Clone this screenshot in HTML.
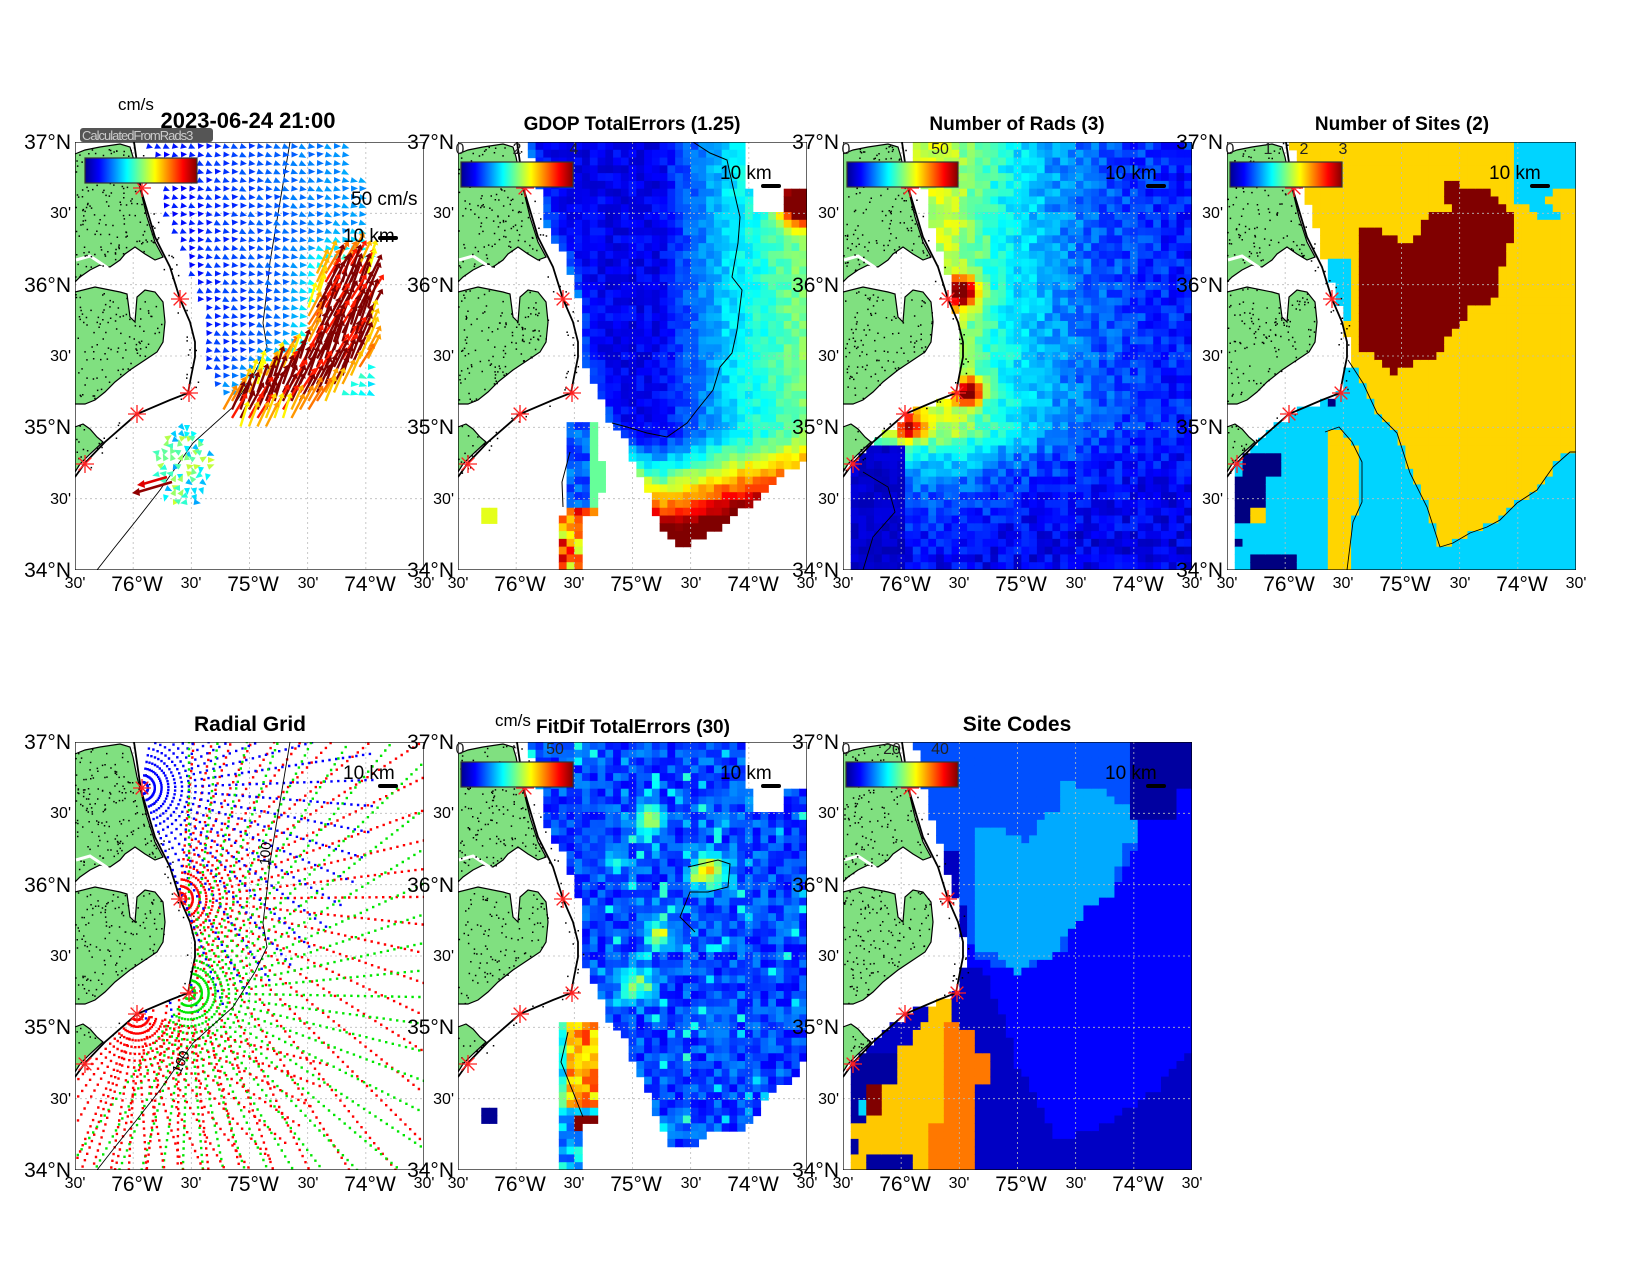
<!DOCTYPE html>
<html><head><meta charset="utf-8">
<style>
body{margin:0;background:#fff}
svg{display:block}
text{font-family:"Liberation Sans",Arial,sans-serif;fill:#000}
.b{font-size:21px}.s{font-size:16px}.t{font-size:19px;font-weight:bold}.k{font-size:16px;fill:#222}.km{font-size:19px}
.gl{stroke:#bbb;stroke-width:0.8;stroke-dasharray:2,3;fill:none}
</style></head><body>
<svg id="S" width="1650" height="1275" xmlns="http://www.w3.org/2000/svg">
<defs>
<linearGradient id="jet" x1="0" x2="1" y1="0" y2="0">
<stop offset="0" stop-color="#00008f"/><stop offset="0.125" stop-color="#0000ff"/><stop offset="0.375" stop-color="#00ffff"/><stop offset="0.625" stop-color="#ffff00"/><stop offset="0.875" stop-color="#ff0000"/><stop offset="1" stop-color="#800000"/>
</linearGradient>
<clipPath id="cp"><rect x="0" y="0" width="349" height="428"/></clipPath>
</defs>

<g id="p0" transform="translate(75,142)"><g id="d0" clip-path="url(#cp)"></g></g>
<g id="p1" transform="translate(458,142)"><g id="d1" clip-path="url(#cp)"></g></g>
<g id="p2" transform="translate(843,142)"><g id="d2" clip-path="url(#cp)"></g></g>
<g id="p3" transform="translate(1227,142)"><g id="d3" clip-path="url(#cp)"></g></g>
<g id="p4" transform="translate(75,742)"><g id="d4" clip-path="url(#cp)"></g></g>
<g id="p5" transform="translate(458,742)"><g id="d5" clip-path="url(#cp)"></g></g>
<g id="p6" transform="translate(843,742)"><g id="d6" clip-path="url(#cp)"></g></g>

<text x="248" y="128" text-anchor="middle" style="font-size:22px;font-weight:bold">2023-06-24 21:00</text>
<text x="118" y="110" style="font-size:17px">cm/s</text>
<rect x="80" y="128" width="133" height="14" rx="3" fill="#555"/>
<text x="82" y="140" style="font-size:13px;fill:#ccc;letter-spacing:-1px">CalculatedFromRads3</text>
<text x="632" y="130" text-anchor="middle" class="t">GDOP TotalErrors (1.25)</text>
<text x="1017" y="130" text-anchor="middle" class="t">Number of Rads (3)</text>
<text x="1402" y="130" text-anchor="middle" class="t">Number of Sites (2)</text>
<text x="250" y="731" text-anchor="middle" class="t" style="font-size:21px">Radial Grid</text>
<text x="633" y="733" text-anchor="middle" class="t">FitDif TotalErrors (30)</text>
<text x="495" y="726" style="font-size:17px">cm/s</text>
<text x="1017" y="731" text-anchor="middle" class="t" style="font-size:21px">Site Codes</text>

<g transform="translate(75,142)">
<text x="-4" y="7" text-anchor="end" class="b">37°N</text><text x="-4" y="76" text-anchor="end" class="s">30'</text><text x="-4" y="150" text-anchor="end" class="b">36°N</text><text x="-4" y="219" text-anchor="end" class="s">30'</text><text x="-4" y="292" text-anchor="end" class="b">35°N</text><text x="-4" y="362" text-anchor="end" class="s">30'</text><text x="-4" y="435" text-anchor="end" class="b">34°N</text>
<text x="0" y="446" text-anchor="middle" class="s">30'</text><text x="62" y="449" text-anchor="middle" class="b">76°W</text><text x="116" y="446" text-anchor="middle" class="s">30'</text><text x="178" y="449" text-anchor="middle" class="b">75°W</text><text x="233" y="446" text-anchor="middle" class="s">30'</text><text x="295" y="449" text-anchor="middle" class="b">74°W</text><text x="349" y="446" text-anchor="middle" class="s">30'</text>
</g>
<g transform="translate(458,142)">
<text x="-4" y="7" text-anchor="end" class="b">37°N</text><text x="-4" y="76" text-anchor="end" class="s">30'</text><text x="-4" y="150" text-anchor="end" class="b">36°N</text><text x="-4" y="219" text-anchor="end" class="s">30'</text><text x="-4" y="292" text-anchor="end" class="b">35°N</text><text x="-4" y="362" text-anchor="end" class="s">30'</text><text x="-4" y="435" text-anchor="end" class="b">34°N</text>
<text x="0" y="446" text-anchor="middle" class="s">30'</text><text x="62" y="449" text-anchor="middle" class="b">76°W</text><text x="116" y="446" text-anchor="middle" class="s">30'</text><text x="178" y="449" text-anchor="middle" class="b">75°W</text><text x="233" y="446" text-anchor="middle" class="s">30'</text><text x="295" y="449" text-anchor="middle" class="b">74°W</text><text x="349" y="446" text-anchor="middle" class="s">30'</text>
</g>
<g transform="translate(843,142)">
<text x="-4" y="7" text-anchor="end" class="b">37°N</text><text x="-4" y="76" text-anchor="end" class="s">30'</text><text x="-4" y="150" text-anchor="end" class="b">36°N</text><text x="-4" y="219" text-anchor="end" class="s">30'</text><text x="-4" y="292" text-anchor="end" class="b">35°N</text><text x="-4" y="362" text-anchor="end" class="s">30'</text><text x="-4" y="435" text-anchor="end" class="b">34°N</text>
<text x="0" y="446" text-anchor="middle" class="s">30'</text><text x="62" y="449" text-anchor="middle" class="b">76°W</text><text x="116" y="446" text-anchor="middle" class="s">30'</text><text x="178" y="449" text-anchor="middle" class="b">75°W</text><text x="233" y="446" text-anchor="middle" class="s">30'</text><text x="295" y="449" text-anchor="middle" class="b">74°W</text><text x="349" y="446" text-anchor="middle" class="s">30'</text>
</g>
<g transform="translate(1227,142)">
<text x="-4" y="7" text-anchor="end" class="b">37°N</text><text x="-4" y="76" text-anchor="end" class="s">30'</text><text x="-4" y="150" text-anchor="end" class="b">36°N</text><text x="-4" y="219" text-anchor="end" class="s">30'</text><text x="-4" y="292" text-anchor="end" class="b">35°N</text><text x="-4" y="362" text-anchor="end" class="s">30'</text><text x="-4" y="435" text-anchor="end" class="b">34°N</text>
<text x="0" y="446" text-anchor="middle" class="s">30'</text><text x="62" y="449" text-anchor="middle" class="b">76°W</text><text x="116" y="446" text-anchor="middle" class="s">30'</text><text x="178" y="449" text-anchor="middle" class="b">75°W</text><text x="233" y="446" text-anchor="middle" class="s">30'</text><text x="295" y="449" text-anchor="middle" class="b">74°W</text><text x="349" y="446" text-anchor="middle" class="s">30'</text>
</g>
<g transform="translate(75,742)">
<text x="-4" y="7" text-anchor="end" class="b">37°N</text><text x="-4" y="76" text-anchor="end" class="s">30'</text><text x="-4" y="150" text-anchor="end" class="b">36°N</text><text x="-4" y="219" text-anchor="end" class="s">30'</text><text x="-4" y="292" text-anchor="end" class="b">35°N</text><text x="-4" y="362" text-anchor="end" class="s">30'</text><text x="-4" y="435" text-anchor="end" class="b">34°N</text>
<text x="0" y="446" text-anchor="middle" class="s">30'</text><text x="62" y="449" text-anchor="middle" class="b">76°W</text><text x="116" y="446" text-anchor="middle" class="s">30'</text><text x="178" y="449" text-anchor="middle" class="b">75°W</text><text x="233" y="446" text-anchor="middle" class="s">30'</text><text x="295" y="449" text-anchor="middle" class="b">74°W</text><text x="349" y="446" text-anchor="middle" class="s">30'</text>
</g>
<g transform="translate(458,742)">
<text x="-4" y="7" text-anchor="end" class="b">37°N</text><text x="-4" y="76" text-anchor="end" class="s">30'</text><text x="-4" y="150" text-anchor="end" class="b">36°N</text><text x="-4" y="219" text-anchor="end" class="s">30'</text><text x="-4" y="292" text-anchor="end" class="b">35°N</text><text x="-4" y="362" text-anchor="end" class="s">30'</text><text x="-4" y="435" text-anchor="end" class="b">34°N</text>
<text x="0" y="446" text-anchor="middle" class="s">30'</text><text x="62" y="449" text-anchor="middle" class="b">76°W</text><text x="116" y="446" text-anchor="middle" class="s">30'</text><text x="178" y="449" text-anchor="middle" class="b">75°W</text><text x="233" y="446" text-anchor="middle" class="s">30'</text><text x="295" y="449" text-anchor="middle" class="b">74°W</text><text x="349" y="446" text-anchor="middle" class="s">30'</text>
</g>
<g transform="translate(843,742)">
<text x="-4" y="7" text-anchor="end" class="b">37°N</text><text x="-4" y="76" text-anchor="end" class="s">30'</text><text x="-4" y="150" text-anchor="end" class="b">36°N</text><text x="-4" y="219" text-anchor="end" class="s">30'</text><text x="-4" y="292" text-anchor="end" class="b">35°N</text><text x="-4" y="362" text-anchor="end" class="s">30'</text><text x="-4" y="435" text-anchor="end" class="b">34°N</text>
<text x="0" y="446" text-anchor="middle" class="s">30'</text><text x="62" y="449" text-anchor="middle" class="b">76°W</text><text x="116" y="446" text-anchor="middle" class="s">30'</text><text x="178" y="449" text-anchor="middle" class="b">75°W</text><text x="233" y="446" text-anchor="middle" class="s">30'</text><text x="295" y="449" text-anchor="middle" class="b">74°W</text><text x="349" y="446" text-anchor="middle" class="s">30'</text>
</g>

<g transform="translate(75,142)">
<text x="276" y="63" class="km">50 cm/s</text>
<text x="268" y="100" class="km">10 km</text>
</g>
<g transform="translate(458,142)"><text x="2" y="12" text-anchor="middle" class="k">0</text><text x="59" y="12" text-anchor="middle" class="k">2</text><text x="116" y="12" text-anchor="middle" class="k">4</text><text x="262" y="37" class="km">10 km</text></g>
<g transform="translate(843,142)"><text x="3" y="12" text-anchor="middle" class="k">0</text><text x="97" y="12" text-anchor="middle" class="k">50</text><text x="262" y="37" class="km">10 km</text></g>
<g transform="translate(1227,142)"><text x="3" y="12" text-anchor="middle" class="k">0</text><text x="41" y="12" text-anchor="middle" class="k">1</text><text x="77" y="12" text-anchor="middle" class="k">2</text><text x="116" y="12" text-anchor="middle" class="k">3</text><text x="262" y="37" class="km">10 km</text></g>
<g transform="translate(75,742)"><text x="268" y="37" class="km">10 km</text></g>
<g transform="translate(458,742)"><text x="2" y="12" text-anchor="middle" class="k">0</text><text x="97" y="12" text-anchor="middle" class="k">50</text><text x="262" y="37" class="km">10 km</text></g>
<g transform="translate(843,742)"><text x="3" y="12" text-anchor="middle" class="k">0</text><text x="49" y="12" text-anchor="middle" class="k">20</text><text x="97" y="12" text-anchor="middle" class="k">40</text><text x="262" y="37" class="km">10 km</text></g>
<g transform="translate(75,742)">
<text transform="translate(195,112) rotate(-85)" text-anchor="middle" style="font-size:14px">100</text>
<text transform="translate(110,322) rotate(-65)" text-anchor="middle" style="font-size:14px">100</text>
</g>
</svg>
<script>
(function(){
const NS='http://www.w3.org/2000/svg',W=349,H=428;
function el(p,t,a){const e=document.createElementNS(NS,t);for(const k in a)e.setAttribute(k,a[k]);p.appendChild(e);return e;}
function interp(pts,v){if(v<=pts[0][0])return pts[0][1];for(let i=1;i<pts.length;i++){if(v<=pts[i][0]){const a=pts[i-1],b=pts[i];return a[1]+(b[1]-a[1])*(v-a[0])/(b[0]-a[0]);}}return pts[pts.length-1][1];}
function rnd(a,b,c){const s=Math.sin(a*127.1+b*311.7+(c||0)*74.7)*43758.5453;return s-Math.floor(s);}
function cl(v){return v<0?0:v>1?1:v;}
function jet(t){t=cl(t);const r=cl(1.5-Math.abs(4*t-3)),g=cl(1.5-Math.abs(4*t-2)),b=cl(1.5-Math.abs(4*t-1));return 'rgb('+Math.round(r*255)+','+Math.round(g*255)+','+Math.round(b*255)+')';}
function gs(x,y,cx,cy,s){return Math.exp(-((x-cx)*(x-cx)+(y-cy)*(y-cy))/(2*s*s));}
function pip(P,x,y){let c=false;for(let i=0,j=P.length-1;i<P.length;j=i++){const xi=P[i][0],yi=P[i][1],xj=P[j][0],yj=P[j][1];if(((yi>y)!=(yj>y))&&(x<(xj-xi)*(y-yi)/(yj-yi)+xi))c=!c;}return c;}
function distSeg(px,py,a,b){const dx=b[0]-a[0],dy=b[1]-a[1];let t=((px-a[0])*dx+(py-a[1])*dy)/(dx*dx+dy*dy);t=cl(t);const x=a[0]+t*dx-px,y=a[1]+t*dy-py;return Math.sqrt(x*x+y*y);}
const coastPts=[[0,59],[48,66],[95,80],[125,95],[157,105],[180,115],[200,120],[215,120],[235,116],[251,113],[258,96],[272,62],[300,30],[321,10],[335,0],[428,-5]];
function coastX(y){return interp(coastPts,y);}
const coastLine=[[59,0],[66,48],[80,95],[95,125],[105,157],[115,180],[120,200],[120,215],[116,235],[113,251],[95,258],[62,272],[30,300],[10,321],[0,335]];
const Lpts=[[0,69],[15,75],[48,82],[85,89],[111,105],[138,115],[161,122],[208,122],[225,129],[241,135],[261,144],[278,152],[291,160],[301,169],[318,175],[331,182],[351,190],[375,198],[408,212],[428,220]];
const landA=[[0,12],[10,8],[25,5],[45,2],[55,5],[58,15],[62,35],[66,50],[72,75],[80,100],[88,115],[80,118],[70,112],[60,105],[50,112],[45,118],[35,125],[25,123],[15,128],[5,135],[0,140]];
const landB=[[0,150],[20,145],[45,150],[52,152],[55,175],[60,180],[62,155],[70,148],[80,150],[88,160],[90,180],[88,200],[82,210],[70,218],[55,228],[40,240],[30,250],[20,258],[10,262],[0,262]];
const landC=[[0,285],[8,282],[15,287],[22,295],[28,300],[15,312],[5,322],[0,330]];
const iso=[[215,0],[205,60],[195,120],[192,148],[188,181],[192,205],[180,230],[158,265],[118,301],[85,348],[60,380],[40,405],[22,428]];
const stars=[[67,46],[105,157],[114,251],[62,272],[10,322]];
function pts(P){return P.map(p=>p[0].toFixed(1)+','+p[1].toFixed(1)).join(' ');}
function grid(g,fn){const cw=W/45,ch=H/55;for(let i=0;i<45;i++)for(let j=0;j<55;j++){const x=(i+0.5)*cw,y=(j+0.5)*ch;const c=fn(x,y,i,j);if(c)el(g,'rect',{x:(i*cw).toFixed(2),y:(j*ch).toFixed(2),width:(cw+0.6).toFixed(2),height:(ch+0.6).toFixed(2),fill:c});}}
function gridlines(g){for(let k=1;k<6;k++){el(g,'line',{x1:k*W/6,y1:0,x2:k*W/6,y2:H,class:'gl'});el(g,'line',{x1:0,y1:k*H/6,x2:W,y2:k*H/6,class:'gl'});}}
function land(g,seed){
 [landA,landB,landC].forEach(P=>el(g,'polygon',{points:pts(P),fill:'#80e080',stroke:'#000','stroke-width':1.2}));
 el(g,'polyline',{points:'1,118 15,114 33,126',fill:'none',stroke:'#fff','stroke-width':3});
 let s='';for(let n=0;n<700;n++){const x=rnd(n,seed,1)*125,y=rnd(n,seed,2)*335;if(pip(landA,x,y)||pip(landB,x,y)||pip(landC,x,y)||(Math.abs(x-coastX(y))<9&&rnd(n,3,seed)<0.5)){s+='M'+x.toFixed(1)+' '+y.toFixed(1)+'h1.5v1.5h-1.5z';}}
 el(g,'path',{d:s,fill:'#000'});
 el(g,'polyline',{points:pts(coastLine),fill:'none',stroke:'#000','stroke-width':1.8});
}
function starz(g){stars.forEach(s=>{for(let k=0;k<4;k++){const a=k*Math.PI/4;el(g,'line',{x1:s[0]-9*Math.cos(a),y1:s[1]-9*Math.sin(a),x2:s[0]+9*Math.cos(a),y2:s[1]+9*Math.sin(a),stroke:'#ff2020','stroke-width':1.3});}});}
function frame(g){el(g,'rect',{x:0,y:0,width:W,height:H,fill:'none',stroke:'#000','stroke-width':1.2});}
function cbar(g,x,y,w,h){el(g,'rect',{x:x,y:y,width:w,height:h,fill:'url(#jet)',stroke:'#333','stroke-width':1.2});}
function sbar(g,x,y){el(g,'line',{x1:x,y1:y,x2:x+16,y2:y,stroke:'#000','stroke-width':4,'stroke-linecap':'round'});}
const D=[0,1,2,3,4,5,6].map(i=>document.getElementById('d'+i));
const P=[0,1,2,3,4,5,6].map(i=>document.getElementById('p'+i));

(function(){const g=D[0];gridlines(g);land(g,11);
 el(g,'polyline',{points:pts(iso),fill:'none',stroke:'#000','stroke-width':0.9});
 const redReg=[[148,272],[175,250],[205,228],[232,210],[240,180],[244,150],[252,128],[275,122],[292,126],[295,165],[290,205],[275,230],[250,250],[215,268],[185,278],[160,282]];
 for(let y=4;y<300;y+=8.5)for(let x=72;x<300;x+=8.5){
  if(x<=interp(Lpts,y)+1)continue;
  const r=rnd(x,y,5);const inR=pip(redReg,x,y);
  let dEdge=1e9;if(!inR){for(let i=0;i<redReg.length;i++){const a=redReg[i],b=redReg[(i+1)%redReg.length];dEdge=Math.min(dEdge,distSeg(x,y,a,b));}}
  if(inR||dEdge<9){let t=inR?(r<0.8?1:0.85):0.62+r*0.15;
   const a=-1.15+(r-0.5)*0.3,L=14+t*12;const tx=x+L*Math.cos(a),ty=y+L*Math.sin(a);const c=jet(t);
   el(g,'line',{x1:x,y1:y,x2:tx,y2:ty,stroke:c,'stroke-width':2.4});
   el(g,'polygon',{points:pts([[tx+5*Math.cos(a),ty+5*Math.sin(a)],[tx+3.5*Math.cos(a+1.57),ty+3.5*Math.sin(a+1.57)],[tx+3.5*Math.cos(a-1.57),ty+3.5*Math.sin(a-1.57)]]),fill:c});
  }else if(y<255&&x<(y<30?272:y<110?290:300)&&!(y>100&&x>300)){
   const t=0.14+0.14*cl((x-100)/180)+(dEdge<40?0.14*(40-dEdge)/31:0)+(r-0.5)*0.05;const a=0.2+(r-0.5)*0.6,L=5+t*8;
   el(g,'polygon',{points:pts([[x+L*Math.cos(a),y+L*Math.sin(a)],[x+3*Math.cos(a+1.57),y+3*Math.sin(a+1.57)],[x+3*Math.cos(a-1.57),y+3*Math.sin(a-1.57)]]),fill:jet(t)});
  }}
 for(let y=283;y<366;y+=7)for(let x=84;x<134;x+=7){if(((x-108)*(x-108))/(26*26)+((y-322)*(y-322))/(42*42)>1)continue;const r=rnd(x,y,9);const t=0.28+r*0.3;const a=r*6.28,L=7;
  el(g,'polygon',{points:pts([[x+L*Math.cos(a),y+L*Math.sin(a)],[x+3*Math.cos(a+1.57),y+3*Math.sin(a+1.57)],[x+3*Math.cos(a-1.57),y+3*Math.sin(a-1.57)]]),fill:jet(t)});}
 [[92,335,68,342,'#e00000'],[97,340,63,350,'#900000']].forEach(a=>{el(g,'line',{x1:a[0],y1:a[1],x2:a[2],y2:a[3],stroke:a[4],'stroke-width':2.5});el(g,'polygon',{points:pts([[a[2]-6,a[3]+1],[a[2]+1,a[3]-4],[a[2]+2,a[3]+4]]),fill:a[4]});});
 starz(g);frame(g);cbar(P[0],10,16,112,25);sbar(P[0],305,96);})();

const B2=[[150,600],[190,348],[199,381],[205,395],[229,405],[252,391],[275,375],[295,361],[312,345],[329,331],[349,315]];
(function(){const g=D[1];
 grid(g,(x,y,i,j)=>{const r=rnd(i,j,1);
  const main=x>interp(Lpts,y)&&!(x>290&&y<45)&&!(x>293&&x<327&&y<70)&&y<interp(B2,x);
  if(main){let v=0.45+0.9*cl((x-200)/70)+0.7*cl((x-270)/80)+3.6*Math.pow(cl((y-292)/100),1.2)+3.6*gs(x,y,342,60,14)+0.5*Math.exp(-(x-interp(Lpts,y))/8)+(r-0.5)*0.35;return jet(v/4);}
  const st=(x>=105&&x<=137&&y>=282&&y<372)||(x>=99&&x<=124&&y>=372)||(x>=130&&x<=145&&y>=318&&y<348);
  if(st){let v=y<365?(x>128?1.9:0.6+r*0.5):2.2+r*1.6;return jet(v/4);}
  if(x>20&&x<36&&y>366&&y<384)return jet(0.6);return null;});
 gridlines(g);land(g,12);
 el(g,'polyline',{points:pts([[235,0],[252,11],[269,18],[275,45],[282,75],[280,101],[274,135],[284,148],[279,188],[274,211],[262,225],[255,248],[239,268],[229,281],[209,295],[189,291],[169,285],[154,281]]),fill:'none',stroke:'#000','stroke-width':1});
 el(g,'polyline',{points:'112,310 104,340 105,365',fill:'none',stroke:'#000','stroke-width':1});
 starz(g);frame(g);cbar(P[1],3,20,112,25);sbar(P[1],305,44);})();

const L3=[[0,66],[40,75],[50,82],[100,92],[130,105],[150,108],[200,120],[250,118]];
(function(){const g=D[2];
 grid(g,(x,y,i,j)=>{const r=rnd(i,j,2);
  const m=y<250?x>interp(L3,y):(x>coastX(y)+3&&x>7);if(!m)return null;
  let v=6+28*Math.exp(-Math.max(0,x-110)/105)*(y<290?1:Math.exp(-(y-290)/45))+40*gs(x,y,120,150,10)+36*gs(x,y,126,250,9)+26*gs(x,y,66,284,9)+(r-0.5)*7;
  if(y>262&&x<60&&y>300)v=3+r*3;return jet(v/60);});
 gridlines(g);land(g,13);
 el(g,'polyline',{points:'20,330 45,345 52,370 30,395 20,428',fill:'none',stroke:'#000','stroke-width':0.9});
 starz(g);frame(g);cbar(P[2],4,20,111,25);sbar(P[2],305,44);})();

const heart=[[128,93],[136,85],[158,85],[158,93],[173,93],[173,101],[190,101],[190,93],[196,78],[205,70],[228,70],[228,63],[220,63],[220,38],[236,38],[236,46],[266,46],[266,55],[281,63],[281,70],[290,70],[290,100],[281,100],[281,123],[273,123],[273,146],[266,155],[266,163],[243,163],[236,178],[236,186],[220,195],[220,210],[213,210],[213,216],[190,216],[190,225],[173,225],[173,231],[166,231],[166,225],[158,225],[151,216],[151,210],[130,208],[130,195],[136,186],[129,186],[129,171],[136,148],[129,148]];
const Sline=[[0,218],[121,218],[136,241],[150,271],[170,291],[183,331],[200,365],[213,405],[226,401],[243,391],[260,385],[273,378],[290,361],[310,348],[326,325],[343,310],[349,310]];
const L4=[[0,64],[30,70],[60,80],[100,95],[120,98],[180,118]];
(function(){const g=D[3];const OR=jet(2/3),CY=jet(1/3),NV=jet(0),DR=jet(1);
 grid(g,(x,y,i,j)=>{const m=y<=251?(x>coastX(y)+2&&x>interp(L4,y)):(x>coastX(y)+2&&x>6);if(!m)return null;
  if(pip(heart,x,y))return DR;
  if((x>13&&x<51&&y>308&&y<338)||(x>6&&x<38&&y>338&&y<385&&!(x>23&&x<36&&y>363))||(x>23&&x<66&&y>415)||(x>6&&x<14&&y>400&&y<408)||(x>98&&x<106&&y>250&&y<262))return NV;
  if(x>23&&x<36&&y>363&&y<385)return OR;
  if(pip([[98,290],[112,285],[125,300],[135,320],[135,360],[126,380],[120,428],[98,428],[98,330]],x,y))return OR;
  if(pip([[290,0],[349,0],[349,45],[330,48],[320,60],[335,75],[325,82],[310,75],[300,65],[290,60],[285,30]],x,y))return CY;
  if(x>98&&x<121&&y>116&&y<178)return CY;
  if(y>interp(Sline,x)||(x<121&&y>218))return CY;return OR;});
 gridlines(g);land(g,14);
 el(g,'polyline',{points:pts(Sline.slice(1)),fill:'none',stroke:'#000','stroke-width':0.9});
 el(g,'polyline',{points:'98,290 112,285 125,300 135,320 135,360 126,380 120,428',fill:'none',stroke:'#000','stroke-width':0.9});
 starz(g);frame(g);cbar(P[3],3,20,112,25);sbar(P[3],305,44);})();

(function(){const g=D[4];gridlines(g);land(g,15);
 const sites=[[105,157,'#ff0000',-85,112,420],[67,46,'#0000ff',-80,100,235],[114,251,'#00e600',-90,125,430],[62,272,'#ff0000',15,165,200]];
 sites.forEach(s=>{let d='';for(let r=6;r<s[5];r+=6.8){for(let a=s[3];a<=s[4];a+=6.5){const ra=a*Math.PI/180;const x=s[0]+r*Math.cos(ra),y=s[1]+r*Math.sin(ra);if(x<0||x>W||y<0||y>H)continue;if(x<coastX(y)+1)continue;d+='M'+(x-1.2).toFixed(1)+' '+(y-1.2).toFixed(1)+'h2.4v2.4h-2.4z';}}el(g,'path',{d:d,fill:s[2]});});
 el(g,'polyline',{points:pts(iso),fill:'none',stroke:'#000','stroke-width':0.9});
 starz(g);frame(g);sbar(P[4],305,44);})();

const B6=[[150,600],[182,331],[190,351],[198,375],[212,408],[229,408],[252,388],[275,391],[295,378],[312,348],[329,345],[342,323],[349,308]];
(function(){const g=D[5];
 grid(g,(x,y,i,j)=>{const r=rnd(i,j,6),r2=rnd(j,i,7);
  const main=x>interp(Lpts,y)&&y<interp(B6,x)&&!(x>290&&y<45)&&!(x>294&&x<329&&y<72);
  if(main){let v=7+r*9+(r2>0.93?10:0)+22*gs(x,y,193,78,10)+30*gs(x,y,252,128,12)+22*gs(x,y,200,195,9)+20*gs(x,y,178,242,12)+14*gs(x,y,200,395,9)+10*gs(x,y,160,120,8);return jet(v/60);}
  const st=(x>=99&&x<=137&&y>=278&&y<=380)||(x>=99&&x<=122&&y>380);
  if(st){let v;if(y<362)v=x>110?36+r*14:18+r*12;else if(x>115&&y>375&&y<392)v=60;else v=10+r*15;return jet(v/60);}
  if(x>22&&x<37&&y>362&&y<378)return jet(0.02);return null;});
 gridlines(g);land(g,16);
 el(g,'polyline',{points:'230,125 260,118 272,122 270,145 250,150 232,150 222,175 237,190',fill:'none',stroke:'#000','stroke-width':1});
 el(g,'polyline',{points:'110,290 103,320 115,350 125,375',fill:'none',stroke:'#000','stroke-width':1});
 starz(g);frame(g);cbar(P[5],3,20,112,25);sbar(P[5],305,44);})();

const L7=[[0,69],[15,77],[48,82],[85,90],[111,100],[165,114],[200,118],[250,116]];
const heart7=[[129,93],[137,85],[160,85],[160,93],[175,93],[175,101],[190,101],[190,93],[199,76],[205,70],[220,70],[220,38],[235,38],[235,46],[267,46],[267,55],[282,63],[290,70],[297,76],[297,93],[289,101],[282,101],[282,123],[274,123],[274,146],[267,155],[244,163],[235,178],[229,186],[220,195],[220,210],[212,210],[212,216],[190,216],[190,225],[175,225],[175,231],[167,231],[167,225],[152,216],[152,210],[129,208],[129,195],[135,186],[129,186],[129,148]];
const top7=[[60,-5],[292,-5],[292,45],[297,76],[297,93],[289,110],[282,123],[270,155],[244,163],[229,186],[220,210],[190,225],[175,231],[130,215],[122,170],[112,115],[98,115],[85,60]];
const core7=[[115,200],[349,40],[349,308],[344,308],[329,325],[314,348],[297,361],[254,385],[214,401],[197,361],[174,325],[167,295],[140,225],[115,225]];
const yel7=[[91,255],[105,255],[105,380],[90,380],[90,428],[10,428],[10,345],[20,345],[35,335],[45,322],[55,310],[70,297],[80,280]];
const ora7=[[98,278],[120,278],[120,290],[130,290],[130,315],[145,315],[145,340],[135,340],[135,380],[130,380],[130,428],[88,428],[88,380],[98,380]];
(function(){const g=D[6];
 grid(g,(x,y,i,j)=>{const m=y<=251?(x>coastX(y)+2&&x>interp(L7,y)):(x>coastX(y)+2&&x>6);if(!m)return null;
  if(x>98&&x<114&&y>110&&y<170)return '#0000c0';
  if(x>290&&y<80)return (x>330&&y>45)?'#0000ff':'#0000a0';
  if(pip(heart7,x,y))return '#00aaff';
  if(pip(top7,x,y))return '#0050ff';
  if(x>22&&x<37&&y>345&&y<372)return '#800000';
  if(x>14&&x<22&&y>355&&y<372)return '#00d8ff';
  if((x>6&&x<52&&y>308&&y<340)||(x>6&&x<22&&y>340&&y<385)||(x>22&&x<66&&y>415)||(x>6&&x<15&&y>398&&y<410))return '#0000a0';
  if(pip(ora7,x,y))return '#ff7800';
  if(pip(yel7,x,y))return '#ffc800';
  if(pip(core7,x,y))return '#0000ff';
  return '#0000c4';});
 gridlines(g);land(g,17);
 starz(g);frame(g);cbar(P[6],3,20,112,25);sbar(P[6],305,44);})();
})();
</script>
</body></html>
